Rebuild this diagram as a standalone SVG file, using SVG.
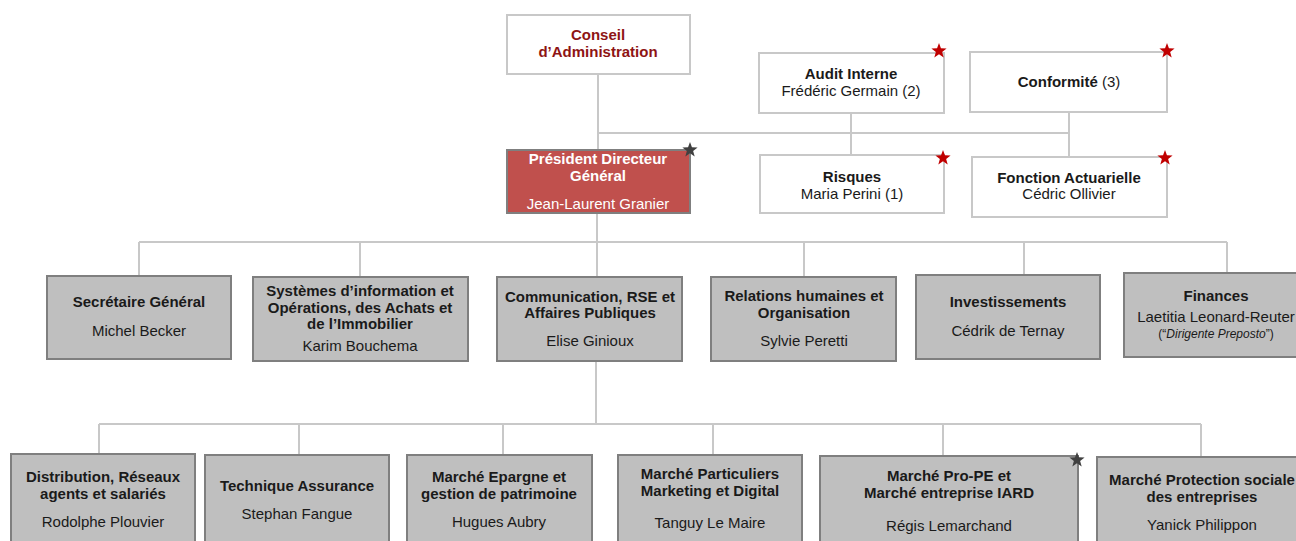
<svg xmlns="http://www.w3.org/2000/svg" width="1296" height="541" viewBox="0 0 1296 541">
<style>
text{font-family:"Liberation Sans",Arial,sans-serif;font-size:15px;text-anchor:middle;fill:#1a1a1a}
.b{font-weight:bold}
.w{fill:#fff;stroke:#c8c8c8;stroke-width:2}
.g{fill:#bfbfbf;stroke:#7f7f7f;stroke-width:2}
.p{fill:#c0504d;stroke:#7f7f7f;stroke-width:2}
.red{fill:#8e1414}
.wt{fill:#fff}
.conn line{stroke:#c8c8c8;stroke-width:2}
.sr{fill:#c00000}
.sd{fill:#404040}
</style>
<defs>
<polygon id="star" points="0,-8 1.94,-2.67 7.61,-2.47 3.14,1.02 4.70,6.47 0,3.3 -4.70,6.47 -3.14,1.02 -7.61,-2.47 -1.94,-2.67"/>
</defs>
<rect width="1296" height="541" fill="#fff"/>
<g id="connectors" class="conn">
<line x1="598" y1="74" x2="598" y2="150"/>
<line x1="597" y1="133" x2="1069" y2="133"/>
<line x1="851" y1="113" x2="851" y2="155"/>
<line x1="1069" y1="112" x2="1069" y2="157"/>
<line x1="597" y1="213" x2="597" y2="242"/>
<line x1="139" y1="242" x2="1227" y2="242"/>
<line x1="139" y1="242" x2="139" y2="276"/>
<line x1="360" y1="242" x2="360" y2="277"/>
<line x1="597" y1="242" x2="597" y2="277"/>
<line x1="804" y1="242" x2="804" y2="277"/>
<line x1="1024" y1="242" x2="1024" y2="275"/>
<line x1="1227" y1="242" x2="1227" y2="273"/>
<line x1="596" y1="361" x2="596" y2="424"/>
<line x1="99" y1="424" x2="1201" y2="424"/>
<line x1="99" y1="424" x2="99" y2="454"/>
<line x1="299" y1="424" x2="299" y2="455"/>
<line x1="503" y1="424" x2="503" y2="455"/>
<line x1="713" y1="424" x2="713" y2="455"/>
<line x1="943" y1="424" x2="943" y2="456"/>
<line x1="1201" y1="424" x2="1201" y2="457"/>
</g>
<g id="conseil">
<rect class="w" x="507" y="15" width="183" height="59"/>
<text class="b red" x="598" y="40">Conseil</text>
<text class="b red" x="598" y="57">d’Administration</text>
</g>
<g id="audit">
<rect class="w" x="759" y="53" width="185" height="60"/>
<text class="b" x="851" y="79">Audit Interne</text>
<text x="851" y="96">Frédéric Germain (2)</text>
<use href="#star" class="sr" x="939" y="51"/>
</g>
<g id="conformite">
<rect class="w" x="970" y="52" width="197" height="60"/>
<text x="1069" y="87"><tspan class="b">Conformité</tspan> (3)</text>
<use href="#star" class="sr" x="1167" y="51"/>
</g>
<g id="pdg">
<rect class="p" x="507" y="150" width="183" height="63"/>
<text class="b wt" x="598" y="164">Président Directeur</text>
<text class="b wt" x="598" y="181">Général</text>
<text class="wt" x="598" y="209">Jean-Laurent Granier</text>
<use href="#star" class="sd" x="690" y="150"/>
</g>
<g id="risques">
<rect class="w" x="760" y="155" width="184" height="58"/>
<text class="b" x="852" y="182">Risques</text>
<text x="852" y="199">Maria Perini (1)</text>
<use href="#star" class="sr" x="943" y="158"/>
</g>
<g id="actuarielle">
<rect class="w" x="972" y="157" width="195" height="60"/>
<text class="b" x="1069" y="183">Fonction Actuarielle</text>
<text x="1069" y="199">Cédric Ollivier</text>
<use href="#star" class="sr" x="1165" y="158"/>
</g>
<g id="secretaire">
<rect class="g" x="47" y="276" width="184" height="83"/>
<text class="b" x="139" y="307">Secrétaire Général</text>
<text x="139" y="336">Michel Becker</text>
</g>
<g id="systemes">
<rect class="g" x="253" y="277" width="215" height="84"/>
<text class="b" x="360" y="296">Systèmes d’information et</text>
<text class="b" x="360" y="313">Opérations, des Achats et</text>
<text class="b" x="360" y="329">de l’Immobilier</text>
<text x="360" y="351">Karim Bouchema</text>
</g>
<g id="communication">
<rect class="g" x="497" y="277" width="185" height="84"/>
<text class="b" x="590" y="302">Communication, RSE et</text>
<text class="b" x="590" y="318">Affaires Publiques</text>
<text x="590" y="346">Elise Ginioux</text>
</g>
<g id="rh">
<rect class="g" x="711" y="277" width="185" height="84"/>
<text class="b" x="804" y="301">Relations humaines et</text>
<text class="b" x="804" y="318">Organisation</text>
<text x="804" y="346">Sylvie Peretti</text>
</g>
<g id="investissements">
<rect class="g" x="916" y="275" width="184" height="84"/>
<text class="b" x="1008" y="307">Investissements</text>
<text x="1008" y="336">Cédrik de Ternay</text>
</g>
<g id="finances">
<rect class="g" x="1124" y="273" width="190" height="84"/>
<text class="b" x="1216" y="301">Finances</text>
<text x="1216" y="322">Laetitia Leonard-Reuter</text>
<text x="1216" y="338" style="font-size:12px">(“<tspan font-style="italic">Dirigente Preposto</tspan>”)</text>
</g>
<g id="distribution">
<rect class="g" x="11" y="454" width="184" height="100"/>
<text class="b" x="103" y="482">Distribution, Réseaux</text>
<text class="b" x="103" y="499">agents et salariés</text>
<text x="103" y="527">Rodolphe Plouvier</text>
</g>
<g id="technique">
<rect class="g" x="205" y="455" width="184" height="100"/>
<text class="b" x="297" y="491">Technique Assurance</text>
<text x="297" y="519">Stephan Fangue</text>
</g>
<g id="epargne">
<rect class="g" x="407" y="455" width="185" height="100"/>
<text class="b" x="499" y="482">Marché Epargne et</text>
<text class="b" x="499" y="499">gestion de patrimoine</text>
<text x="499" y="527">Hugues Aubry</text>
</g>
<g id="particuliers">
<rect class="g" x="618" y="455" width="184" height="100"/>
<text class="b" x="710" y="479">Marché Particuliers</text>
<text class="b" x="710" y="496">Marketing et Digital</text>
<text x="710" y="528">Tanguy Le Maire</text>
</g>
<g id="propr">
<rect class="g" x="820" y="456" width="258" height="100"/>
<text class="b" x="949" y="481">Marché Pro-PE et</text>
<text class="b" x="949" y="498">Marché entreprise IARD</text>
<text x="949" y="531">Régis Lemarchand</text>
<use href="#star" class="sd" x="1077" y="460"/>
</g>
<g id="protection">
<rect class="g" x="1097" y="457" width="210" height="100"/>
<text class="b" x="1202" y="485">Marché Protection sociale</text>
<text class="b" x="1202" y="502">des entreprises</text>
<text x="1202" y="530">Yanick Philippon</text>
</g>
</svg>
